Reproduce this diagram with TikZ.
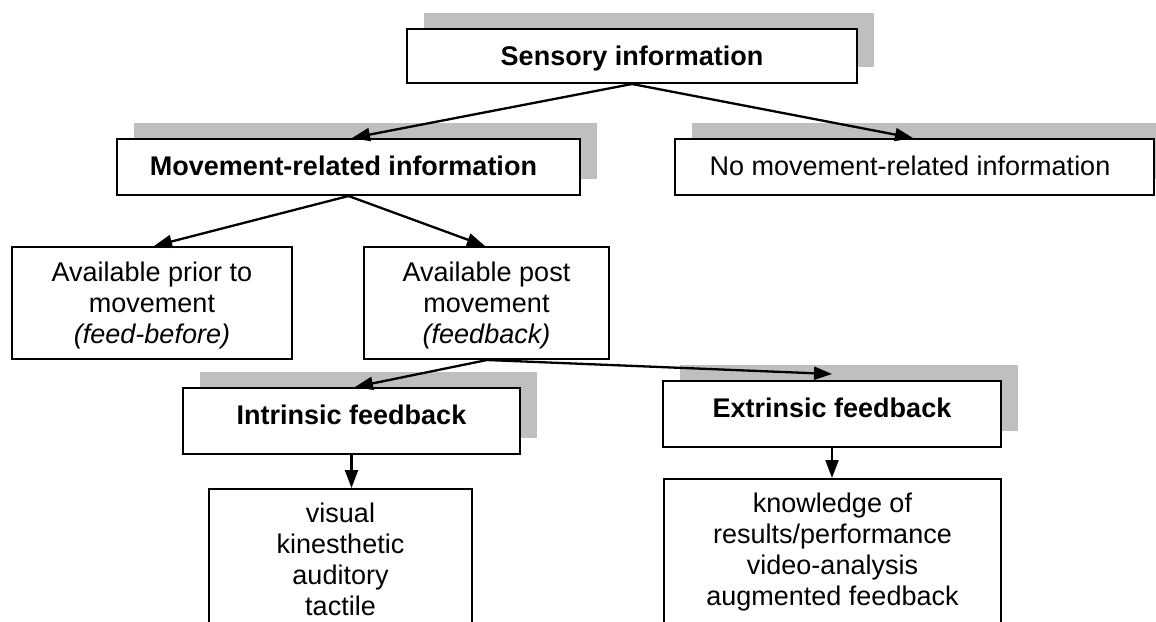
\documentclass[tikz,border=0pt]{standalone}
\usepackage{fontspec}
\setmainfont{Liberation Sans}
\usetikzlibrary{arrows.meta,shadows}
\tikzset{
  box/.style={draw, line width=2pt, fill=white, inner sep=0pt},
  shadebox/.style={box, general shadow={shadow xshift=16.5pt, shadow yshift=16.5pt, fill=black!25}},
  lbl/.style={font=\fontsize{27}{31}\selectfont, align=center, inner sep=0pt},
  boldlbl/.style={lbl, font=\fontsize{27}{31}\selectfont\bfseries},
  conn/.style={line width=2.3pt, -{Triangle[length=18pt,width=13pt]}},
}
\begin{document}
\begin{tikzpicture}[x=1pt,y=-1pt]
\useasboundingbox (0,0) rectangle (1156,621);
\clip (0,0) rectangle (1156,621);

% top level
\node[shadebox, minimum width=450pt, minimum height=54pt] (sens) at (632,56) {};
\node[boldlbl, anchor=base] (sensT) at (632,65) {Sensory information};

% second level
\node[shadebox, minimum width=463pt, minimum height=56pt] (mov) at (348.5,167) {};
\node[boldlbl, anchor=base] (movT) at (343.5,175) {Movement-related information};
\node[shadebox, minimum width=479pt, minimum height=56pt] (nomov) at (914.5,167) {};
\node[lbl, anchor=base] (nomovT) at (910,175) {No movement-related information};

% timing of the information
\node[box, minimum width=280pt, minimum height=112pt] (prior) at (152,303) {};
\node[lbl] (priorT) at (152,306) {Available prior to\\movement\\\textit{(feed-before)}};
\node[box, minimum width=245pt, minimum height=112pt] (post) at (486.5,303) {};
\node[lbl] (postT) at (486.5,306) {Available post\\movement\\\textit{(feedback)}};

% kinds of feedback
\node[shadebox, minimum width=337pt, minimum height=66pt] (intr) at (351.5,421) {};
\node[boldlbl, anchor=base] (intrT) at (351.5,424) {Intrinsic feedback};
\node[shadebox, minimum width=338pt, minimum height=66pt] (extr) at (832,414) {};
\node[boldlbl, anchor=base] (extrT) at (832,417) {Extrinsic feedback};

% examples
\node[box, minimum width=263pt, minimum height=160pt] (ilist) at (340.5,569) {};
\node[lbl] (ilistT) at (340.5,559.7) {visual\\kinesthetic\\auditory\\tactile};
\node[box, minimum width=337pt, minimum height=170pt] (elist) at (832.5,564) {};
\node[lbl] (elistT) at (832.5,552.5) {knowledge of\\results/performance\\video-analysis\\augmented feedback};

% connectors
\draw[conn] (sens.south) -- ([xshift=3.5pt]mov.north);
\draw[conn] (sens.south) -- ([xshift=-1.5pt]nomov.north);
\draw[conn] (mov.south) -- ([xshift=2pt]prior.north);
\draw[conn] (mov.south) -- ([xshift=-1.5pt]post.north);
\draw[conn] ([xshift=0.5pt]post.south) -- ([xshift=3.5pt]intr.north);
\draw[conn] ([xshift=0.5pt]post.south) -- ([yshift=6pt]extr.north);
\draw[conn] (intr.south) -- (intr.south |- ilist.north);
\draw[conn] (extr.south) -- (extr.south |- elist.north);
\end{tikzpicture}
\end{document}
